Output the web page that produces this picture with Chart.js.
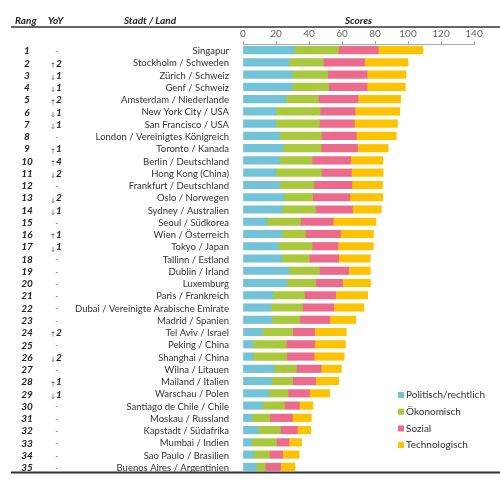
<!DOCTYPE html>
<html><head><meta charset="utf-8">
<script src="https://cdn.jsdelivr.net/npm/chart.js@4.4.0/dist/chart.umd.min.js"></script>
<style>html,body{margin:0;padding:0;background:#fff;}#wrap{width:500px;height:482px;position:relative;}</style>
</head><body><div id="wrap"><canvas id="c"></canvas></div>
<script>
const ranks = [1,2,3,4,5,6,7,8,9,10,11,12,13,14,15,16,17,18,19,20,21,22,23,24,25,26,27,28,29,30,31,32,33,34,35];
const yoyChange = [0,2,-1,-1,2,-1,-1,0,1,4,-2,0,-2,-1,0,1,-1,0,0,0,0,0,0,2,0,-2,0,1,-1,0,0,0,0,0,0];
const cities = ["Singapur","Stockholm / Schweden","Zürich / Schweiz","Genf / Schweiz","Amsterdam / Niederlande","New York City / USA","San Francisco / USA","London / Vereinigtes Königreich","Toronto / Kanada","Berlin / Deutschland","Hong Kong (China)","Frankfurt / Deutschland","Oslo / Norwegen","Sydney / Australien","Seoul / Südkorea","Wien / Österreich","Tokyo / Japan","Tallinn / Estland","Dublin / Irland","Luxemburg","Paris / Frankreich","Dubai / Vereinigte Arabische Emirate","Madrid / Spanien","Tel Aviv / Israel","Peking / China","Shanghai / China","Wilna / Litauen","Mailand / Italien","Warschau / Polen","Santiago de Chile / Chile","Moskau / Russland","Kapstadt / Südafrika","Mumbai / Indien","Sao Paulo / Brasilien","Buenos Aires / Argentinien"];
const politisch = [30.9,27.9,29.9,29.9,25.9,19.8,19.8,22.2,24.2,22.2,19.8,22.2,24.8,23.6,14.5,23.4,21.6,23.4,27.9,26.5,18.2,16.8,17.6,11.5,6.1,6.1,18.8,17.2,15.6,11.7,5.3,9.1,5.1,6.5,8.1];
const oekonomisch = [26.9,20.8,21.4,22.0,19.8,26.9,26.5,25.3,23.2,19.6,27.7,20.6,17.4,20.4,20.4,14.3,20.2,16.8,18.4,17.4,19.0,19.2,16.8,18.6,20.2,20.4,13.5,12.9,11.7,13.4,10.9,13.5,15.3,9.5,5.4];
const sozial = [24.2,25.0,23.9,23.3,24.0,21.2,21.2,21.2,22.0,23.4,18.2,23.2,22.6,22.4,19.8,21.4,15.8,17.8,17.8,16.4,19.0,19.0,18.2,13.3,17.2,16.6,15.0,13.9,13.1,9.0,13.7,10.3,7.5,8.0,9.3];
const technologisch = [27.1,26.3,23.6,23.2,25.9,27.1,26.1,24.2,18.6,19.6,19.2,18.6,20.0,17.4,25.9,20.0,21.4,19.2,13.1,17.0,19.4,18.2,15.8,19.2,18.6,18.2,12.3,14.0,12.1,8.3,11.5,8.1,7.7,10.1,8.7];
const seriesNames = ["Politisch/rechtlich","Ökonomisch","Sozial","Technologisch"];
const xTicks = [0,20,40,60,80,100,120,140];

const colors = ["#72c2d8","#a9c83c","#ec6b8c","#fec300"];
const FONT = "Lato, 'DejaVu Sans', sans-serif";

const overlay = {
  id: 'overlay',
  afterDraw(chart) {
    const ctx = chart.ctx;
    const y = chart.scales.y;
    const W = chart.width;
    ctx.save();
    // header
    ctx.fillStyle = '#222';
    ctx.font = "italic bold 10px " + FONT;
    ctx.textBaseline = 'alphabetic';
    ctx.textAlign = 'left';
    ctx.fillText('Rang', 15, 24);
    ctx.fillText('YoY', 48, 24);
    ctx.textAlign = 'center';
    ctx.fillText('Stadt / Land', 150, 24);
    const xs = chart.scales.x;
    ctx.fillText('Scores', (xs.left + xs.right) / 2, 24);
    // lines
    ctx.strokeStyle = '#333';
    ctx.lineWidth = 1.6;
    ctx.beginPath(); ctx.moveTo(11, 27); ctx.lineTo(W, 27); ctx.stroke();
    ctx.lineWidth = 2;
    ctx.beginPath(); ctx.moveTo(11, chart.chartArea.bottom - 0.5); ctx.lineTo(W, chart.chartArea.bottom - 0.5); ctx.stroke();
    // rows
    ctx.textBaseline = 'middle';
    cities.forEach((c, i) => {
      const py = y.getPixelForValue(i) + 1;
      ctx.fillStyle = '#222';
      ctx.font = "italic bold 10px " + FONT;
      ctx.textAlign = 'center';
      ctx.fillText(String(ranks[i]), 27, py);
      const ch = yoyChange[i];
      if (ch === 0) {
        ctx.fillStyle = '#888';
        ctx.font = "9px " + FONT;
        ctx.fillText('-', 57, py);
      } else {
        ctx.fillStyle = '#333';
        ctx.font = "6px " + FONT;
        ctx.textAlign = 'center';
        ctx.fillText(ch > 0 ? '↑' : '↓', 53, py + 1.5);
        ctx.fillStyle = '#222';
        ctx.font = "italic bold 10px " + FONT;
        ctx.textAlign = 'left';
        ctx.fillText(String(Math.abs(ch)), 56, py);
      }
      ctx.fillStyle = '#333';
      ctx.font = "9.5px " + FONT;
      ctx.textAlign = 'right';
      ctx.fillText(c, 229, py);
    });
    // legend
    ctx.textAlign = 'left';
    ctx.font = "10px " + FONT;
    chart.data.datasets.forEach((ds, k) => {
      const ly = 395 + k * 16.7;
      ctx.fillStyle = ds.backgroundColor;
      ctx.fillRect(398, ly - 3, 6, 6);
      ctx.fillStyle = '#333';
      ctx.fillText(ds.label, 406, ly);
    });
    ctx.restore();
  }
};

new Chart(document.getElementById('c'), {
  type: 'bar',
  data: {
    labels: cities,
    datasets: [
      { label: seriesNames[0], data: politisch, backgroundColor: colors[0] },
      { label: seriesNames[1], data: oekonomisch, backgroundColor: colors[1] },
      { label: seriesNames[2], data: sozial, backgroundColor: colors[2] },
      { label: seriesNames[3], data: technologisch, backgroundColor: colors[3] }
    ]
  },
  options: {
    indexAxis: 'y',
    responsive: true,
    maintainAspectRatio: false,
    animation: false,
    layout: { padding: { left: 243, right: 26, top: 28, bottom: 9 } },
    datasets: { bar: { barThickness: 7.5, borderWidth: 0 } },
    plugins: { legend: { display: false }, tooltip: { enabled: false } },
    scales: {
      x: {
        type: 'linear', position: 'top', stacked: true, min: 0, max: 140,
        afterBuildTicks(s) { s.ticks = xTicks.map(v => ({ value: v })); },
        afterFit(s) { s.height = 16; },
        ticks: { color: '#666', font: { family: FONT, size: 10 }, padding: 1 },
        grid: { drawOnChartArea: false, drawTicks: true, tickLength: 3, color: '#aaa' },
        border: { display: true, color: '#aaa' }
      },
      y: { type: 'category', stacked: true, display: false }
    }
  },
  plugins: [overlay]
});
</script></body></html>
